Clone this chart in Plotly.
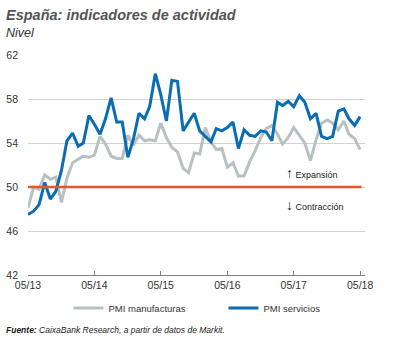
import pandas as pd
import plotly.graph_objects as go

months = pd.date_range("2013-05-01", periods=61, freq="MS")

pmi_manufacturas = [48.1, 50.0, 49.8, 51.1, 50.7, 50.9, 48.6, 50.8,
    52.2, 52.5, 52.8, 52.7, 52.9, 54.6, 53.9, 52.8, 52.6, 52.6, 54.7, 53.8,
    54.7, 54.2, 54.3, 54.2, 55.8, 54.5, 53.6, 53.2, 51.7, 51.3, 53.1, 53.0,
    55.4, 54.1, 53.4, 53.5, 51.8, 52.2, 51.0, 51.0, 52.3, 53.3, 54.5, 55.3,
    55.6, 54.8, 53.9, 54.5, 55.4, 54.7, 54.0, 52.4, 54.3, 55.8, 56.1, 55.8,
    55.2, 56.0, 54.8, 54.4, 53.4]

pmi_servicios = [47.5, 47.8, 48.4, 50.4, 48.9, 49.6, 51.5, 54.2,
    54.9, 53.7, 54.0, 56.5, 55.7, 54.8, 56.2, 58.1, 55.9, 55.9, 52.7, 54.3,
    56.7, 56.2, 57.3, 60.3, 58.4, 56.0, 59.7, 59.6, 55.1, 55.9, 56.7, 55.1,
    54.6, 54.1, 55.3, 55.1, 55.4, 55.9, 53.5, 55.2, 54.7, 54.6, 55.1, 55.0,
    54.2, 57.7, 57.4, 57.8, 57.3, 58.3, 57.7, 56.2, 56.7, 54.6, 54.4, 54.6,
    56.9, 57.1, 56.2, 55.6, 56.4]

x_tickvals = ["2013-05-01", "2014-05-01", "2015-05-01", "2016-05-01", "2017-05-01", "2018-05-01"]
x_ticktext = ["05/13", "05/14", "05/15", "05/16", "05/17", "05/18"]
y_tickvals = [42, 46, 50, 54, 58, 62]
threshold = 50

FONT = "Liberation Sans, Arial, sans-serif"
GRAY = "#b7c1c3"
BLUE = "#0a6db3"
RED = "#e8572b"

fig = go.Figure()
fig.add_trace(go.Scatter(x=months, y=pmi_manufacturas, mode="lines", name="PMI manufacturas",
                         line=dict(color=GRAY, width=3), legend="legend"))
fig.add_trace(go.Scatter(x=months, y=pmi_servicios, mode="lines", name="PMI servicios",
                         line=dict(color=BLUE, width=3), legend="legend2"))

fig.add_shape(type="line", xref="paper", x0=0, x1=0.99, yref="y", y0=threshold, y1=threshold,
              line=dict(color=RED, width=2.5), layer="above")

legend_common = dict(yanchor="middle", y=-0.15, xanchor="left",
                     font=dict(size=9.5, color="#333333", family=FONT),
                     itemwidth=30, bgcolor="rgba(0,0,0,0)", borderwidth=0)

fig.update_layout(
    width=393, height=338,
    margin=dict(l=28, r=28, t=55, b=63, autoexpand=False),
    paper_bgcolor="white", plot_bgcolor="white",
    font=dict(family=FONT, size=10, color="#333333"),
    showlegend=True,
    legend=dict(x=0.12, **legend_common),
    legend2=dict(x=0.58, **legend_common),
    xaxis=dict(type="date", range=["2013-05-01", "2018-05-28"],
               tickvals=x_tickvals, ticktext=x_ticktext,
               showgrid=False, showline=True, linecolor="#808080", linewidth=1,
               ticks="inside", ticklen=4, tickcolor="#808080",
               tickfont=dict(size=10.5, color="#333333")),
    yaxis=dict(range=[42, 62], tickvals=y_tickvals, showgrid=True, gridcolor="#d2d2d2",
               gridwidth=1, zeroline=False, showline=False, ticks="",
               ticklabelstandoff=9,
               tickfont=dict(size=10.5, color="#333333")),
    annotations=[
        dict(xref="paper", yref="paper", x=-0.07, y=1.0, yshift=40, xanchor="left", yanchor="middle",
             text="<b><i>España: indicadores de actividad</i></b>", showarrow=False,
             font=dict(size=14.5, color="#555555", family=FONT)),
        dict(xref="paper", yref="paper", x=-0.07, y=1.0, yshift=22, xanchor="left", yanchor="middle",
             text="<i>Nivel</i>", showarrow=False,
             font=dict(size=12.5, color="#333333", family=FONT)),
        dict(xref="paper", yref="paper", x=-0.07, y=0, yshift=-55, xanchor="left", yanchor="middle",
             text="<b><i>Fuente:</i></b><i> CaixaBank Research, a partir de datos de Markit.</i>",
             showarrow=False, font=dict(size=8.5, color="#222222", family=FONT)),
        dict(xref="paper", yref="paper", x=0.76, y=0.465, xanchor="left", yanchor="middle",
             text="<b><span style='font-size:14px'>↑</span></b> Expansión", showarrow=False,
             font=dict(size=9, color="#222222", family=FONT)),
        dict(xref="paper", yref="paper", x=0.76, y=0.32, xanchor="left", yanchor="middle",
             text="<b><span style='font-size:14px'>↓</span></b> Contracción", showarrow=False,
             font=dict(size=9, color="#222222", family=FONT)),
    ],
)

fig.write_html("out.html")
